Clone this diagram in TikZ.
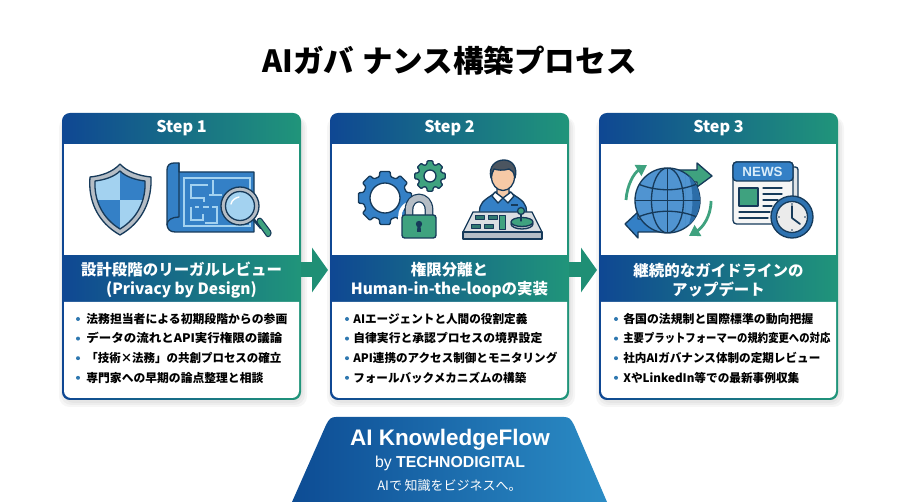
\documentclass[tikz,border=0pt]{standalone}
\usepackage{graphicx}
\usepackage{fontspec}
\setmainfont{Noto Sans CJK JP}
\newfontfamily\logofont{Liberation Sans}
\usetikzlibrary{arrows.meta}

\definecolor{headblue}{HTML}{0F4793}
\definecolor{headteal}{HTML}{20957A}
\definecolor{inkdark}{HTML}{163A5A}
\definecolor{iconblue}{HTML}{3480C6}
\definecolor{iconlight}{HTML}{A3D2F0}
\definecolor{icongreen}{HTML}{3FA27F}
\definecolor{icongrey}{HTML}{B5BDC5}
\definecolor{hairgrey}{HTML}{4B5560}
\definecolor{skintone}{HTML}{F6C9A6}
\definecolor{dotblue}{HTML}{2F78B0}
\definecolor{plateblue}{HTML}{0D4C94}
\definecolor{plateright}{HTML}{2B8CC5}

\newdimen\pxunit
\pxunit=.02cm
\newcommand{\fitrow}[2]{\resizebox{#1\pxunit}{\height}{#2}}

\tikzset{
  cardback/.style={left color=headblue, right color=headteal},
  steplabel/.style={text=white, font=\fontsize{9.2}{11}\selectfont\bfseries},
  bandlabel/.style={text=white, align=center, minimum width=4.78cm, minimum height=.94cm, inner sep=0pt,
    font=\fontsize{8.8}{10.9}\selectfont\bfseries},
  itemtext/.style={anchor=west, inner sep=0pt, text=black, text height=5.9pt, text depth=1pt,
    font=\fontsize{6.7}{7.5}\selectfont\bfseries},
  itemdot/.style={circle, fill=dotblue, inner sep=0pt, minimum size=4*.02cm},
  flowarrow/.style={draw=headteal!96!black, line width=.3cm, shorten >=.04cm,
    -{Triangle[length=.32cm,width=.88cm]}},
  iconline/.style={draw=inkdark, line width=.75pt, line join=round, line cap=round},
  planline/.style={draw=iconlight, line width=.65pt},
  platetext/.style={text=white, inner sep=0pt}
}

\newcommand{\gearpath}[3]{% centre, outer, root
  \draw[iconline, fill=#1, shift={#2}, rounded corners=.6pt] (-15:#3)
    \foreach \a in {0,45,...,315} { -- (\a-15:#3) -- (\a-11:\gearout) -- (\a+11:\gearout) -- (\a+15:#3) } -- cycle;
}

\begin{document}
\begin{tikzpicture}[x=.02cm, y=-.02cm]
  \useasboundingbox (0,0) rectangle (900,502);

  \node[font=\fontsize{17.4}{20}\selectfont\bfseries, inner sep=0pt] (title) at (449.5,60.5) {AIガバ\hspace{.25em}ナンス構築プロセス};

  % cards
  \foreach \i/\x/\bandtext in {1/62/{設計段階のリーガルレビュー\\(Privacy by Design)},
      2/330/{権限分離と\\Human-in-the-loopの実装},
      3/599/{継続的なガイドラインの\\アップデート}} {
    \foreach \s in {2,4,6}
      \fill[black, opacity=.035, rounded corners=6pt] (\x+3-\s,113+4) rectangle (\x+239+\s,400+\s+1);
    \path[cardback, rounded corners=4.5pt] (\x,113) rectangle (\x+239,400);
    \fill[white] (\x+2,144) rectangle (\x+237,255);
    \fill[white] (\x+2,302) -- (\x+237,302) [rounded corners=4pt] -- (\x+237,398) -- (\x+2,398) [sharp corners] -- cycle;
    \node[steplabel] (step\i) at (\x+119.5,128.5) {Step \i};
    \node[bandlabel] (band\i) at (\x+119.5,280) {\bandtext};
    \coordinate (out\i) at (\x+239,270);
    \coordinate (in\i) at (\x,270);
  }

  % lines
  \foreach \source/\dest in {1/2, 2/3}
    \draw[flowarrow] (out\source) -- (in\dest);

  % items
  \foreach \j/\w/\name in {1/201/法務担当者による初期段階からの参画, 2/196/データの流れとAPI実行権限の議論,
      3/195/「技術×法務」の共創プロセスの確立, 4/177/専門家への早期の論点整理と相談} {
    \node[itemdot] (dota\j) at (78,319+\j*19.6-19.6) {};
    \node[itemtext] (itema\j) at (86,319+\j*19.6-19.6) {\fitrow{\w}{\name}};
  }
  \foreach \j/\w/\name in {1/174/AIエージェントと人間の役割定義, 2/189/自律実行と承認プロセスの境界設定,
      3/204/API連携のアクセス制御とモニタリング, 4/173/フォールバックメカニズムの構築} {
    \node[itemdot] (dotb\j) at (347,319+\j*19.6-19.6) {};
    \node[itemtext] (itemb\j) at (353,319+\j*19.6-19.6) {\fitrow{\w}{\name}};
  }
  \foreach \j/\w/\name in {1/190/各国の法規制と国際標準の動向把握, 2/207/主要プラットフォーマーの規約変更への対応,
      3/197/社内AIガバナンス体制の定期レビュー, 4/176/XやLinkedIn等での最新事例収集} {
    \node[itemdot] (dotc\j) at (616,319+\j*19.6-19.6) {};
    \node[itemtext] (itemc\j) at (623,319+\j*19.6-19.6) {\fitrow{\w}{\name}};
  }

  % shield
  \draw[iconline, fill=icongrey] (120,164) .. controls (127,172) and (140,176) .. (151,177)
    .. controls (152,200) and (143,222) .. (120,235) .. controls (97,222) and (88,200) .. (90,177)
    .. controls (101,176) and (113,172) .. (120,164) -- cycle;
  \begin{scope}
    \clip (120,171) .. controls (126,177) and (136,180) .. (145,181)
      .. controls (146,200) and (138,218) .. (120,229) .. controls (102,218) and (94,200) .. (95,181)
      .. controls (104,180) and (114,177) .. (120,171) -- cycle;
    \fill[iconlight] (90,165) rectangle (120,200);
    \fill[iconblue] (120,165) rectangle (150,200);
    \fill[iconblue] (90,200) rectangle (120,235);
    \fill[iconlight] (120,200) rectangle (150,235);
  \end{scope}
  \draw[iconline] (120,171) .. controls (126,177) and (136,180) .. (145,181)
      .. controls (146,200) and (138,218) .. (120,229) .. controls (102,218) and (94,200) .. (95,181)
      .. controls (104,180) and (114,177) .. (120,171) -- cycle;

  % blueprint
  \draw[iconline, fill=iconblue] (179,172) -- (254,172) -- (254,232) -- (175,232)
    .. controls (170,232) and (167,229) .. (167,224) -- (167,170)
    .. controls (167,165) and (170,163) .. (174,163) -- (179,163) -- cycle;
  \draw[iconline] (179,163) -- (179,217) .. controls (172,217) and (167,220) .. (167,225);
  \draw[planline] (184,178) rectangle (250,226);
  \draw[planline] (208,185) -- (191,185) -- (191,198) -- (204,198) -- (204,202);
  \draw[planline] (213,180) -- (213,195) (209,195) -- (222,195);
  \draw[planline] (191,207) -- (191,220) -- (202,220) (203,214) -- (203,221);
  \draw[planline] (195,207) -- (199,207) (203,207) -- (209,207) (212,207) -- (217,207) -- (217,223) -- (205,223);
  \draw[iconline, line width=1.5pt] (254,220) -- (261,228);
  \draw[iconline, fill=icongreen, rounded corners=1.5pt, line width=.6pt] (256,221) -- (260,217) -- (272,233) -- (268,238) -- cycle;
  \draw[iconline, fill=icongrey] (240,206) circle (19);
  \draw[iconline, fill=iconlight] (240,206) circle (14.5);
  \draw[white, line width=.8pt, line cap=round] (231,204) .. controls (232,200) and (235,198) .. (239,197);

  % gears and lock
  \def\gearout{27}
  \gearpath{iconblue}{(385,198)}{22}
  \draw[iconline, fill=white] (385,198) circle (15);
  \def\gearout{15.5}
  \gearpath{icongreen}{(430,176)}{12}
  \draw[iconline, fill=white] (430,176) circle (6);
  \draw[white, line width=2pt] (400,238) -- (400,216) .. controls (400,196) and (437,196) .. (437,216);
  \draw[iconline, line width=5pt, draw=inkdark] (409,217) -- (409,210) .. controls (409,194) and (429,194) .. (429,210) -- (429,217);
  \draw[line width=3.6pt, draw=icongrey] (409,217) -- (409,210) .. controls (409,194) and (429,194) .. (429,210) -- (429,217);
  \draw[iconline, fill=icongreen, rounded corners=1.5pt] (402,215) rectangle (436,238);
  \fill[inkdark] (419,224) circle (3.2);
  \fill[inkdark] (417.5,225) -- (420.5,225) -- (421,232) -- (417,232) -- cycle;

  % operator
  \draw[iconline, fill=iconblue] (479,215) -- (480,207) .. controls (482,200) and (490,197) .. (496,192)
    -- (510,192) .. controls (516,197) and (524,200) .. (526,207) -- (527,215) -- cycle;
  \draw[iconline, fill=skintone] (497,186) -- (497,195) -- (503,198) -- (509,195) -- (509,186) -- cycle;
  \draw[iconline, fill=white] (495,192) -- (503,198) -- (498,203) -- (492,196) -- cycle;
  \draw[iconline, fill=white] (511,192) -- (503,198) -- (508,203) -- (514,196) -- cycle;
  \draw[iconline, fill=skintone] (503,177) ellipse (11.5 and 13.5);
  \draw[iconline, fill=hairgrey] (491,178) .. controls (488,166) and (496,160) .. (504,160)
    .. controls (512,160) and (518,167) .. (515,178) .. controls (514,172) and (512,170) .. (509,169)
    .. controls (503,171) and (497,170) .. (494,169) .. controls (492,172) and (492,175) .. (491,178) -- cycle;
  \draw[inkdark, line width=.8pt] (511,205) -- (518,205);
  \draw[iconline, fill=icongrey!50] (473,212) -- (532,212) -- (542,232) -- (463,232) -- cycle;
  \draw[iconline, fill=icongrey] (463,232) rectangle (542,239);
  \foreach \bx/\by in {475/215, 488/215, 471/224, 484/224}
    \draw[iconline, fill=icongreen!60!inkdark, line width=.5pt] (\bx,\by) rectangle (\bx+9,\by+4.5);
  \draw[iconline, fill=icongreen, line width=.5pt] (499,215) rectangle (505,229);
  \draw[iconline, fill=icongrey] (522,224) ellipse (11 and 5);
  \draw[iconline, fill=icongreen] (522,222) ellipse (11 and 4.5);
  \draw[iconline] (521,213) -- (521,221);
  \draw[iconline, fill=icongreen] (521,211) circle (3.5);

  % globe
  \draw[iconline, fill=icongreen] (670,170) -- (697,170) -- (697,163) -- (712,176) -- (697,187) -- (697,182) -- (670,182) -- cycle;
  \draw[iconline, fill=iconblue] (665,219) -- (638,219) -- (638,212) -- (625,224) -- (638,238) -- (638,232) -- (665,232) -- cycle;
  \draw[iconline, fill=iconblue!75!iconlight] (667.5,200.5) circle (32.5);
  \begin{scope}
    \clip (667.5,200.5) circle (32.5);
    \fill[iconblue!85!black] (700,168) rectangle (685,233) .. controls (695,215) and (695,185) .. (685,168);
    \draw[iconline] (667.5,168) -- (667.5,233) (635,200.5) -- (700,200.5);
    \draw[iconline] (667.5,200.5) ellipse (16 and 32.5);
    \draw[iconline] (636,183) .. controls (655,192) and (680,192) .. (699,183);
    \draw[iconline] (636,218) .. controls (655,209) and (680,209) .. (699,218);
  \end{scope}
  \draw[icongreen, line width=1.6pt, -{Triangle[length=6pt,width=7pt]}] (626,200) .. controls (627,185) and (634,173) .. (647,165);
  \draw[icongreen, line width=1.6pt, -{Triangle[length=6pt,width=7pt]}] (711,201) .. controls (711,217) and (702,228) .. (689,236);

  % newspaper and clock
  \draw[iconline, fill=icongrey!40, rounded corners=1.5pt] (785,167) rectangle (798,218);
  \draw[iconline, fill=black!4, rounded corners=2pt] (733,162) rectangle (793,224);
  \draw[iconline, fill=iconblue, rounded corners=2pt] (733,181) -- (733,162) -- (793,162) -- (793,181) -- cycle;
  \node[inner sep=0pt, text=iconlight!40!white, font=\logofont\fontsize{7.6}{10}\selectfont\bfseries] (news) at (762.5,172) {NEWS};
  \draw[iconline, fill=icongreen] (739,188) rectangle (758,206);
  \foreach \ly/\lx in {188/782, 194/782, 200/778, 206/772}
    \draw[iconline] (763,\ly) -- (\lx,\ly);
  \foreach \ly/\lx in {212/770, 218/768}
    \draw[iconline] (739,\ly) -- (\lx,\ly);
  \draw[iconline, fill=iconblue!80!inkdark] (792,217) circle (21);
  \draw[iconline, fill=black!8] (792,217) circle (15.5);
  \draw[iconline, line width=1pt] (792,206) -- (792,218) -- (800,224);
  \foreach \a in {0,90,180,270}
    \fill[inkdark] (792,217) ++(\a:13) circle (.8);

  % plate at the foot
  \path[left color=plateblue, right color=plateright] (292,502) -- (326,417+8)
    .. controls (329,419) and (331,417) .. (336,417) -- (564,417)
    .. controls (569,417) and (571,419) .. (574,425) -- (607,502) -- cycle;
  \node[platetext, font=\logofont\fontsize{12.8}{16}\selectfont\bfseries] (brand) at (450,440) {AI KnowledgeFlow};
  \node[platetext, font=\logofont\fontsize{9}{11}\selectfont] (maker) at (450,463) {by \textbf{TECHNODIGITAL}};
  \node[platetext, font=\fontsize{7.4}{9}\selectfont] (claim) at (449.5,486) {AIで\hspace{.2em}知識をビジネスへ。};
\end{tikzpicture}
\end{document}
